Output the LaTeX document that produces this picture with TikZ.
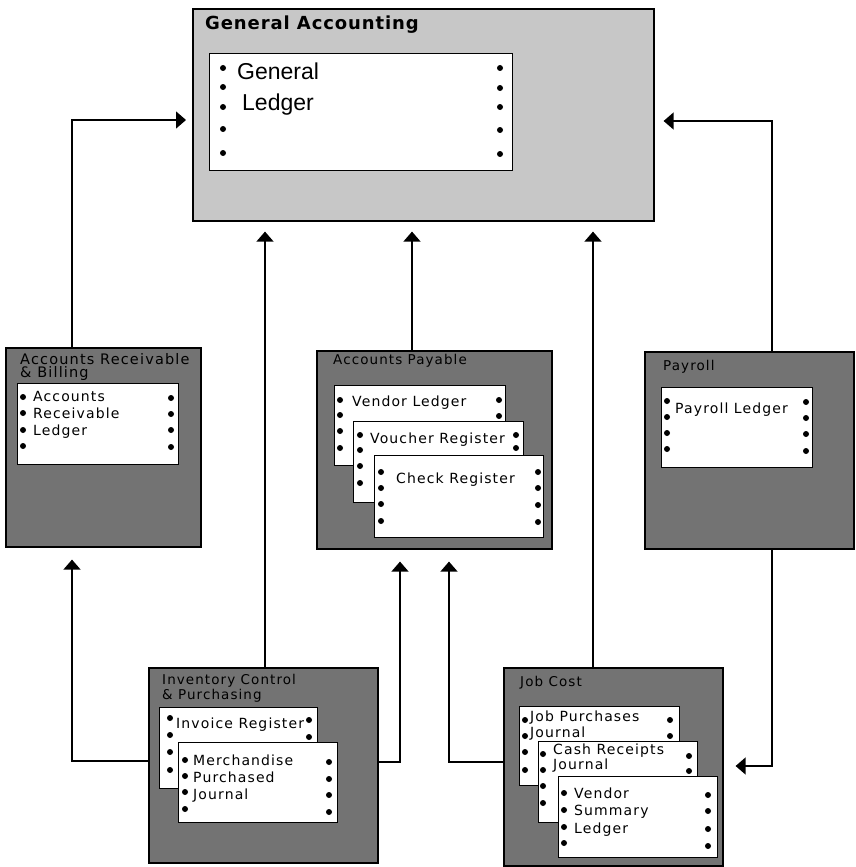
\documentclass[tikz,border=0pt]{standalone}
\usepackage{fontspec}
\setmainfont{DejaVu Sans}
\newfontfamily\libsans{Liberation Sans}
\newfontfamily\dvsp[LetterSpace=8]{DejaVu Sans}
\newfontfamily\dvbold[LetterSpace=5]{DejaVu Sans Bold}
\usetikzlibrary{arrows.meta,calc}
\newcommand\dotcol[2]{\foreach \yy in {#2} {\fill (#1,\yy) circle (3pt);}}
\begin{document}
\begin{tikzpicture}[x=1pt,y=-1pt,
  gabox/.style={draw=black, line width=1.6pt, fill=black!22, anchor=north west, inner sep=0pt},
  dkbox/.style={draw=black, line width=1.6pt, fill=black!55, anchor=north west, inner sep=0pt},
  card/.style={draw=black, line width=1.4pt, fill=white, anchor=north west, inner sep=0pt},
  bigttl/.style={anchor=base west, inner sep=0pt, font=\dvbold\fontsize{18}{18}\selectfont},
  bigtxt/.style={anchor=base west, inner sep=0pt, font=\libsans\fontsize{23}{23}\selectfont},
  ttl/.style={anchor=base west, inner sep=0pt, font=\dvsp\fontsize{13.5}{13.5}\selectfont},
  ttlw/.style={ttl, font=\dvsp\fontsize{14.5}{14.5}\selectfont},
  ctxt/.style={anchor=base west, inner sep=0pt, font=\dvsp\fontsize{14}{14}\selectfont},
  conn/.style={line width=1.4pt, draw=black},
  arr/.style={conn, -{Triangle[length=10pt,width=17pt]}}
]
\useasboundingbox (0,0) rectangle (856,867);

% ---------- General Accounting ----------
\node[gabox, minimum width=461pt, minimum height=212pt] (ga) at (192,8) {};
\node[bigttl] (gaT) at (205,30) {General Accounting};
\node[card, minimum width=303pt, minimum height=117pt] (gl) at (209,53) {};
\dotcol{223}{68,87,107,129,153}
\dotcol{500}{68,88,107,130,154}
\node[bigtxt] (glA) at (237,80) {General};
\node[bigtxt] (glB) at (242,110) {Ledger};

% ---------- Accounts Receivable ----------
\node[dkbox, minimum width=195pt, minimum height=199pt] (ar) at (5,347) {};
\node[ttlw] (arT1) at (20,364) {Accounts Receivable};
\node[ttlw] (arT2) at (20,377) {\& Billing};
\node[card, minimum width=161pt, minimum height=81pt] (arc) at (17,383) {};
\dotcol{23}{397,413,430,446}
\dotcol{171}{398,414,430,447}
\node[ctxt] (arc1) at (33,401) {Accounts};
\node[ctxt] (arc2) at (33,418) {Receivable};
\node[ctxt] (arc3) at (33,435) {Ledger};

% ---------- Accounts Payable ----------
\node[dkbox, minimum width=235pt, minimum height=198pt] (ap) at (316,350) {};
\node[ttl] (apT) at (333,364) {Accounts Payable};
\node[card, minimum width=171pt, minimum height=80pt] (vl) at (334,385) {};
\dotcol{340}{400,415,431,448}
\dotcol{499}{400,416,431,448}
\node[ctxt] (vlT) at (352,406) {Vendor Ledger};
\node[card, minimum width=170pt, minimum height=81pt] (vr) at (353,421) {};
\dotcol{360}{435,450,466,483}
\dotcol{516}{435,448,466,483}
\node[ctxt] (vrT) at (370,443) {Voucher Register};
\node[card, minimum width=169pt, minimum height=82pt] (cr) at (374,455) {};
\dotcol{381}{472,488,504,521}
\dotcol{538}{472,488,505,522}
\node[ctxt] (crT) at (396,483) {Check Register};

% ---------- Payroll ----------
\node[dkbox, minimum width=209pt, minimum height=197pt] (pr) at (644,351) {};
\node[ttl] (prT) at (663,370) {Payroll};
\node[card, minimum width=151pt, minimum height=80pt] (pl) at (661,387) {};
\dotcol{667}{401,417,433,449}
\dotcol{806}{402,418,434,451}
\node[ctxt] (plT) at (675,413) {Payroll Ledger};

% ---------- Inventory Control ----------
\node[dkbox, minimum width=229pt, minimum height=195pt] (inv) at (148,667) {};
\node[ttl] (invT1) at (162,684) {Inventory Control};
\node[ttl] (invT2) at (162,699) {\& Purchasing};
\node[card, minimum width=158pt, minimum height=81pt] (ir) at (159,707) {};
\dotcol{170}{718,735,752,770}
\dotcol{309}{720,737,754,771}
\node[ctxt] (irT) at (176,728) {Invoice Register};
\node[card, minimum width=159pt, minimum height=80pt] (mp) at (178,742) {};
\dotcol{185}{760,776,792,809}
\dotcol{329}{762,779,795,812}
\node[ctxt] (mp1) at (193,765) {Merchandise};
\node[ctxt] (mp2) at (193,782) {Purchased};
\node[ctxt] (mp3) at (193,799) {Journal};

% ---------- Job Cost ----------
\node[dkbox, minimum width=219pt, minimum height=198pt] (jc) at (503,667) {};
\node[ttl] (jcT) at (520,686) {Job Cost};
\node[card, minimum width=160pt, minimum height=79pt] (j1) at (519,706) {};
\dotcol{525}{720,736,752,770}
\dotcol{670}{720,736,752,770}
\node[ctxt] (j1a) at (530,721) {Job Purchases};
\node[ctxt] (j1b) at (530,737) {Journal};
\node[card, minimum width=159pt, minimum height=81pt] (j2) at (538,741) {};
\dotcol{543}{754,770,786,803}
\dotcol{689}{756,771,788,805}
\node[ctxt] (j2a) at (553,754) {Cash Receipts};
\node[ctxt] (j2b) at (553,769) {Journal};
\node[card, minimum width=159pt, minimum height=81pt] (j3) at (558,776) {};
\dotcol{564}{793,810,827,843}
\dotcol{708}{795,811,829,846}
\node[ctxt] (j3a) at (574,798) {Vendor};
\node[ctxt] (j3b) at (574,815) {Summary};
\node[ctxt] (j3c) at (574,833) {Ledger};

% ---------- Connectors ----------
\draw[arr] ($(ar.north west)+(67,0)$) |- ($(ga.north west)+(-6,112)$);
\draw[arr] ($(pr.north west)+(128,0)$) |- ($(ga.north east)+(9,113)$);
\draw[arr] ($(inv.north west)+(117,0)$) -- ($(ga.south west)+(73,10)$);
\draw[arr] ($(ap.north west)+(96,0)$) -- ($(ga.south west)+(220,10)$);
\draw[arr] ($(jc.north west)+(90,0)$) -- ($(ga.south west)+(401,10)$);
\draw[arr] ($(inv.north west)+(0,94)$) -| ($(ar.south west)+(67,12)$);
\draw[arr] ($(inv.north east)+(0,95)$) -| ($(ap.south west)+(84,12)$);
\draw[arr] ($(jc.north west)+(0,95)$) -| ($(ap.south west)+(133,12)$);
\draw[arr] ($(pr.south west)+(128,0)$) |- ($(jc.north east)+(12,99)$);
\end{tikzpicture}
\end{document}
